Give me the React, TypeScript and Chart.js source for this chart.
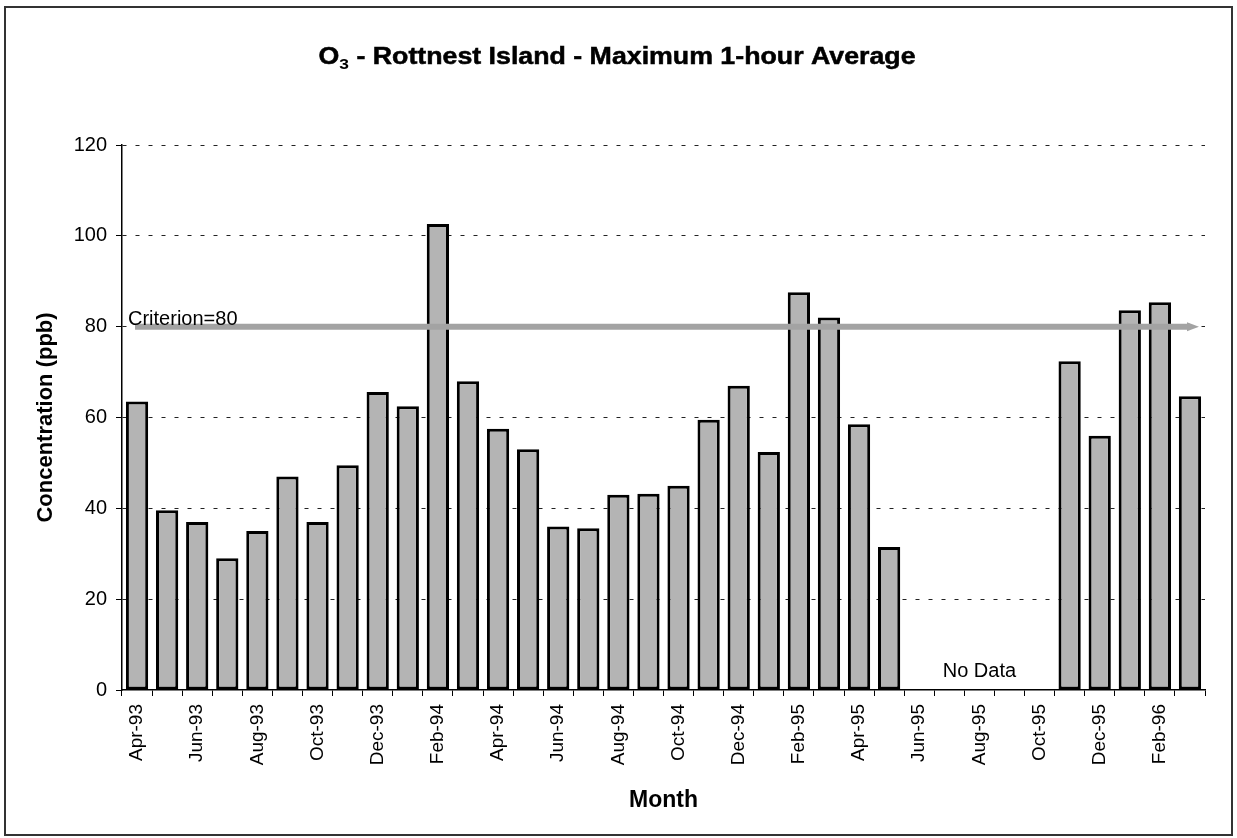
import React, { useEffect, useRef } from "react";
import { Chart, registerables } from "chart.js";

Chart.register(...registerables);

// ---- data ----
const months = [
  "Apr-93", "May-93", "Jun-93", "Jul-93", "Aug-93", "Sep-93", "Oct-93", "Nov-93", "Dec-93",
  "Jan-94", "Feb-94", "Mar-94", "Apr-94", "May-94", "Jun-94", "Jul-94", "Aug-94", "Sep-94",
  "Oct-94", "Nov-94", "Dec-94", "Jan-95", "Feb-95", "Mar-95", "Apr-95", "May-95", "Jun-95",
  "Jul-95", "Aug-95", "Sep-95", "Oct-95", "Nov-95", "Dec-95", "Jan-96", "Feb-96", "Mar-96",
];
const concentration: (number | null)[] = [
  63.5, 39.6, 37, 29, 35, 47, 37, 49.5, 65.6,
  62.5, 102.6, 68, 57.5, 53, 36, 35.6, 43, 43.2,
  45, 59.5, 67, 52.4, 87.6, 82, 58.5, 31.5, null,
  null, null, null, null, 72.4, 56, 83.6, 85.4, 64.7,
];
const yTicks = [0, 20, 40, 60, 80, 100, 120];
const criterion = 80;
const criterionLabel = "Criterion=80";
const noDataLabel = "No Data";
const noDataMonth = "Aug-95";
const noDataLevel = 2.8;
const titleChem = "O";
const titleSub = "3";
const titleRest = " - Rottnest Island - Maximum 1-hour Average";
const yTitle = "Concentration (ppb)";
const xTitle = "Month";

const FONT = "'Liberation Sans', Arial, Helvetica, sans-serif";

export default function App() {
  const ref = useRef<HTMLCanvasElement>(null);

  useEffect(() => {
    document.body.style.margin = "0";
    const canvas = ref.current!;

    const framePlugin = {
      id: "frame",
      beforeDraw(chart: any) {
        const c = chart.ctx;
        c.save();
        c.fillStyle = "#ffffff";
        c.fillRect(0, 0, chart.width, chart.height);
        c.restore();
      },
      afterDraw(chart: any) {
        const c = chart.ctx;
        c.save();
        c.strokeStyle = "#333";
        c.lineWidth = 2;
        c.strokeRect(5, 7, 1227, 828);
        c.restore();
      },
    };

    const titlePlugin = {
      id: "titleO3",
      afterDraw(chart: any) {
        const c = chart.ctx;
        c.save();
        const big = `bold 23px ${FONT}`;
        const small = `bold 15px ${FONT}`;
        c.font = big;
        const w1 = c.measureText(titleChem).width;
        const w3 = c.measureText(titleRest).width;
        c.font = small;
        const w2 = c.measureText(titleSub).width;
        const total = w1 + w2 + w3;
        const target = 597;
        const sx = target / total;
        c.translate(617 - target / 2, 64);
        c.scale(sx, 1);
        c.fillStyle = "#000";
        c.strokeStyle = "#000";
        c.lineWidth = 0.5;
        c.textBaseline = "alphabetic";
        c.textAlign = "left";
        c.font = big;
        c.fillText(titleChem, 0, 0);
        c.strokeText(titleChem, 0, 0);
        c.font = small;
        c.fillText(titleSub, w1, 5);
        c.font = big;
        c.fillText(titleRest, w1 + w2, 0);
        c.strokeText(titleRest, w1 + w2, 0);
        c.restore();
      },
    };

    const criterionPlugin = {
      id: "criterion",
      afterDatasetsDraw(chart: any) {
        const c = chart.ctx;
        const ys = chart.scales.y;
        const area = chart.chartArea;
        const y = ys.getPixelForValue(criterion);
        const x0 = area.left + 13;
        const x1 = area.right - 6;
        c.save();
        c.strokeStyle = "#a3a3a3";
        c.fillStyle = "#a3a3a3";
        c.lineWidth = 6;
        c.beginPath();
        c.moveTo(x0, y);
        c.lineTo(x1 - 9, y);
        c.stroke();
        c.beginPath();
        c.moveTo(x1 - 12, y - 4.5);
        c.lineTo(x1, y);
        c.lineTo(x1 - 12, y + 4.5);
        c.closePath();
        c.fill();
        c.fillStyle = "#000";
        c.font = `20px ${FONT}`;
        c.textAlign = "left";
        c.textBaseline = "alphabetic";
        c.fillText(criterionLabel, area.left + 6, y - 2);
        c.restore();
      },
    };

    const noDataPlugin = {
      id: "noData",
      afterDraw(chart: any) {
        const c = chart.ctx;
        const xs = chart.scales.x;
        const ys = chart.scales.y;
        const x = xs.getPixelForValue(months.indexOf(noDataMonth));
        const y = ys.getPixelForValue(noDataLevel);
        c.save();
        c.fillStyle = "#000";
        c.font = `20px ${FONT}`;
        c.textAlign = "center";
        c.textBaseline = "alphabetic";
        c.fillText(noDataLabel, x, y);
        c.restore();
      },
    };

    const chart = new Chart(canvas, {
      type: "bar",
      data: {
        labels: months,
        datasets: [
          {
            label: "Concentration",
            data: concentration,
            backgroundColor: "#b4b4b4",
            borderColor: "#000",
            borderWidth: 3,
            borderSkipped: false,
            barPercentage: 0.74,
            categoryPercentage: 1,
          },
        ],
      },
      options: {
        responsive: false,
        animation: false,
        devicePixelRatio: 1,
        layout: { padding: { left: 0, top: 145, right: 32, bottom: 0 } },
        plugins: {
          legend: { display: false },
          title: { display: false },
          tooltip: { enabled: false },
        },
        scales: {
          x: {
            type: "category",
            afterFit: (s: any) => {
              s.height = 148;
            },
            grid: {
              offset: true,
              drawOnChartArea: false,
              drawTicks: true,
              tickLength: 6,
              tickColor: "#000",
              tickWidth: 1,
            },
            border: { display: true, color: "#000", width: 1.5 },
            ticks: {
              autoSkip: false,
              minRotation: 90,
              maxRotation: 90,
              padding: 8,
              color: "#000",
              font: { family: FONT, size: 19 },
              callback: (_v: any, i: number) => (i % 2 === 0 ? months[i] : ""),
            },
            title: {
              display: true,
              text: xTitle,
              color: "#000",
              font: { family: FONT, size: 23, weight: "bold" },
              padding: { top: 0, bottom: 24 },
            },
          },
          y: {
            min: 0,
            max: 120,
            afterFit: (s: any) => {
              s.width = 122;
            },
            afterBuildTicks: (s: any) => {
              s.ticks = yTicks.map((v) => ({ value: v }));
            },
            grid: {
              color: (ctx: any) => (ctx.tick && ctx.tick.value === 0 ? "rgba(0,0,0,0)" : "#222"),
              lineWidth: 1,
              drawTicks: true,
              tickLength: 6,
              tickColor: "#000",
              tickWidth: 1,
            },
            border: { display: true, color: "#000", width: 1.5, dash: [4, 9] },
            ticks: {
              padding: 9,
              color: "#000",
              font: { family: FONT, size: 20 },
            },
            title: {
              display: true,
              text: yTitle,
              color: "#000",
              font: { family: FONT, size: 22, weight: "bold" },
              padding: { top: 33, bottom: 0 },
            },
          },
        },
      },
      plugins: [framePlugin, criterionPlugin, noDataPlugin, titlePlugin],
    });

    return () => chart.destroy();
  }, []);

  return (
    <div style={{ width: 1237, height: 838 }}>
      <canvas ref={ref} width={1237} height={838} style={{ display: "block" }} />
    </div>
  );
}
